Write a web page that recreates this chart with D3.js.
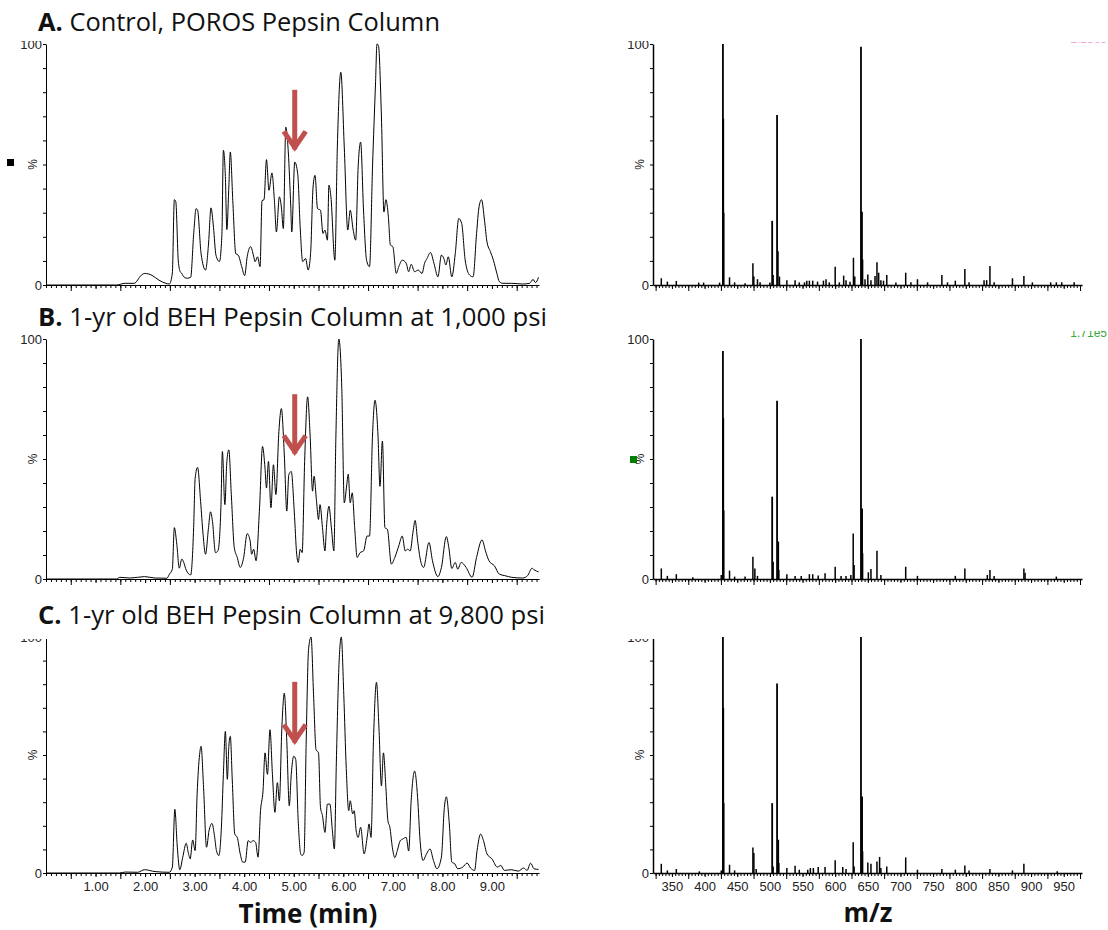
<!doctype html>
<html lang="en">
<head>
<meta charset="utf-8">
<title>Pepsin column comparison</title>
<script src="https://cdn.jsdelivr.net/npm/d3@7/dist/d3.min.js"></script>
<style>
  body { margin: 0; background: #fff; }
  svg { display: block; }
  .tick text { font-family: "Liberation Sans Narrow", "Liberation Sans", Arial, sans-serif; font-size: 13px; fill: #222; }
</style>
</head>
<body>
<svg id="chart"></svg>
<script>
// panel titles (bold letter + text)
const panelLetters = ["A.", "B.", "C."];
const panelTitles = [" Control, POROS Pepsin Column",
                     " 1-yr old BEH Pepsin Column at 1,000 psi",
                     " 1-yr old BEH Pepsin Column at 9,800 psi"];

const timeTicks = [1, 2, 3, 4, 5, 6, 7, 8, 9];
const mzTicks = [350, 400, 450, 500, 550, 600, 650, 700, 750, 800, 850, 900, 950];

// chromatograms: [time (min), relative %]
const traceA = [[0,0],[1.42,0],[1.6,0.7],[1.78,0.7],[1.92,4],[1.99,4.8],[2.14,4],[2.28,2],[2.42,0.7],[2.49,0.4],
  [2.55,5],[2.59,35.4],[2.62,34.5],[2.67,10],[2.71,5.5],[2.74,4.8],[2.78,3.4],[2.85,2.8],[2.92,3.2],[2.98,21],
  [3.03,31.7],[3.06,31],[3.13,13],[3.22,6.2],[3.28,17],[3.33,32],[3.38,24],[3.43,12.4],[3.5,9.7],[3.55,21],
  [3.58,55.9],[3.62,45],[3.65,23],[3.69,40.7],[3.72,55.2],[3.77,35],[3.83,13],[3.88,12.4],[3.95,7.6],[4.01,3.9],
  [4.06,11.7],[4.13,15.9],[4.19,12],[4.22,9.7],[4.27,11.7],[4.32,7.6],[4.36,35],[4.4,35.4],[4.45,52],[4.5,39.3],
  [4.56,46.5],[4.61,35],[4.65,22],[4.71,36.6],[4.75,32.4],[4.79,23.4],[4.84,65.5],[4.89,55.2],[4.94,32.4],[4.96,22],
  [5.02,51],[5.08,46.2],[5.13,24],[5.18,9.7],[5.24,11],[5.29,6.2],[5.34,13],[5.39,40.7],[5.43,45.5],[5.48,31.7],
  [5.54,31],[5.59,21.4],[5.63,22.8],[5.68,18.6],[5.71,41.4],[5.75,36.6],[5.83,10.3],[5.88,57.2],[5.95,88.3],[6.02,57.2],
  [6.09,22.8],[6.14,31],[6.2,22.8],[6.25,18.6],[6.3,49],[6.35,59.3],[6.41,30.3],[6.47,10.3],[6.53,7.6],[6.59,49],
  [6.65,83.4],[6.68,100],[6.71,99.3],[6.77,69.7],[6.82,30.3],[6.86,35.4],[6.91,28.3],[6.95,16.6],[7.0,15.9],[7.07,4.8],
  [7.12,7.6],[7.19,10.3],[7.27,9],[7.32,5.5],[7.37,8.6],[7.44,5.5],[7.51,6.2],[7.59,4.8],[7.64,9],[7.69,11],
  [7.76,13.5],[7.83,9],[7.91,3.4],[7.98,12.4],[8.03,11],[8.07,8.3],[8.12,11.7],[8.19,3.4],[8.26,13],[8.33,27.6],
  [8.39,25.5],[8.46,10.3],[8.55,4.1],[8.62,3.4],[8.69,21.4],[8.74,32.4],[8.79,35.4],[8.85,26.9],[8.9,17.9],[8.97,13.8],
  [9.03,10.3],[9.1,4.8],[9.15,1.4],[9.22,0.7],[9.4,0.7],[9.62,0.4],[9.76,0.7],[9.83,2.3],[9.88,1],[9.94,3.2]];

const traceB = [[0,0],[1.42,0],[1.49,0.7],[1.7,0.4],[1.99,1],[2.2,0.4],[2.44,0.3],[2.49,2],[2.55,4.1],[2.59,21.4],
  [2.64,14.5],[2.69,4.5],[2.74,8.3],[2.78,6.9],[2.83,3.7],[2.92,1.7],[2.98,21.4],[3.01,42],[3.06,46.5],[3.12,32.4],
  [3.17,18.6],[3.22,10.3],[3.28,21.4],[3.32,28],[3.36,24],[3.42,11],[3.47,11.7],[3.53,29.7],[3.56,53.1],[3.61,31],
  [3.65,49],[3.69,53.8],[3.74,35.2],[3.8,13.1],[3.86,9],[3.92,4.8],[3.99,9],[4.06,18.9],[4.12,15.9],[4.15,10.3],
  [4.19,12.4],[4.24,7.6],[4.31,29.7],[4.37,55.2],[4.42,46.2],[4.45,37.9],[4.49,49],[4.54,29.7],[4.59,47.6],[4.64,35.2],
  [4.7,61.4],[4.75,71],[4.81,51.7],[4.86,28.3],[4.9,43.4],[4.95,44.8],[5.01,28.3],[5.06,10.3],[5.09,6.9],[5.13,12.4],
  [5.17,11],[5.22,49],[5.28,75.9],[5.33,60],[5.38,36.6],[5.41,42.8],[5.46,32.4],[5.5,24.8],[5.53,31],[5.58,21.4],
  [5.63,11.7],[5.66,21.4],[5.71,30.3],[5.76,21.4],[5.81,11.7],[5.85,58.6],[5.91,100],[5.97,79.3],[6.02,31.7],[6.07,39.3],
  [6.1,43.7],[6.14,31.7],[6.18,35.9],[6.23,21.4],[6.28,9],[6.34,11],[6.41,11.7],[6.48,17.9],[6.53,17.9],[6.59,60],
  [6.64,74.5],[6.7,60],[6.74,38.6],[6.79,57.5],[6.84,21.4],[6.89,20.7],[6.97,6.2],[7.04,9],[7.12,13.8],[7.19,17.9],
  [7.25,11.7],[7.3,12.4],[7.35,11.7],[7.41,20],[7.45,24.4],[7.5,15.9],[7.56,7.6],[7.62,4.8],[7.73,15.2],[7.8,7.6],
  [7.91,1],[7.98,4.8],[8.08,17.7],[8.13,13.1],[8.19,4.4],[8.26,6.9],[8.31,4.1],[8.38,6.9],[8.48,4.8],[8.6,0.7],
  [8.69,9],[8.8,16.3],[8.87,11.7],[8.94,7.6],[9.05,5.5],[9.15,2],[9.26,1.4],[9.4,0.7],[9.62,0.4],[9.72,1.4],
  [9.81,4.5],[9.86,3.7],[9.94,3]];

const traceC = [[0,0],[1.48,0],[1.6,0.4],[1.85,0.3],[1.99,1.4],[2.2,0.6],[2.49,0.3],[2.55,2.5],[2.6,27],[2.65,11],
  [2.7,1.4],[2.76,6.7],[2.83,12.6],[2.87,8.8],[2.91,6],[2.96,14],[3.01,9.5],[3.05,33.4],[3.1,50.2],[3.13,53.7],
  [3.18,36.2],[3.24,10.9],[3.29,17.9],[3.35,21],[3.4,15.8],[3.44,9.5],[3.49,7.4],[3.54,19.4],[3.58,41.8],[3.62,60],
  [3.66,39.7],[3.69,53.7],[3.72,57.9],[3.76,39],[3.81,16.5],[3.86,15.1],[3.92,8.1],[3.97,4.6],[4.02,4.6],[4.08,13.7],
  [4.13,13],[4.18,13.7],[4.23,13],[4.28,6.7],[4.33,26.4],[4.38,34.8],[4.42,50.9],[4.47,41.8],[4.52,60.7],[4.57,41.8],
  [4.62,25.7],[4.67,38.3],[4.71,30.6],[4.76,61.4],[4.81,76.2],[4.86,55.8],[4.91,28.5],[4.95,41.8],[5.0,49.5],[5.04,48.1],
  [5.09,22.2],[5.14,8.1],[5.17,7.4],[5.21,8.8],[5.25,54.4],[5.3,95],[5.35,100],[5.4,75.5],[5.45,52.3],[5.5,50.9],
  [5.54,27.8],[5.58,24.3],[5.63,17.2],[5.68,29.2],[5.73,29.2],[5.78,17.9],[5.82,10.2],[5.86,47],[5.91,86.7],[5.96,100],
  [6.01,75.5],[6.06,44.3],[6.11,26.4],[6.14,30.6],[6.19,25],[6.22,26.4],[6.26,17.9],[6.3,15.1],[6.35,19.4],[6.42,8.1],
  [6.49,16.5],[6.52,20.8],[6.56,15.1],[6.61,56.8],[6.67,80.8],[6.72,61.4],[6.77,36.9],[6.81,50.9],[6.86,36.2],[6.9,22.2],
  [6.94,19.4],[6.99,10.9],[7.04,6.5],[7.09,9.5],[7.15,13.7],[7.2,14.4],[7.27,15.1],[7.32,9.3],[7.37,30.6],[7.44,43.2],
  [7.5,32],[7.55,13.7],[7.61,5.3],[7.68,8.1],[7.75,10.2],[7.82,5.3],[7.89,1.8],[7.98,6.7],[8.04,27.8],[8.08,32.3],
  [8.14,20.8],[8.19,4.6],[8.25,3.9],[8.31,1.8],[8.41,2.5],[8.5,4.2],[8.57,2.1],[8.65,1.1],[8.7,9.5],[8.77,16.5],
  [8.83,13.7],[8.9,8.1],[9.0,6],[9.11,2.5],[9.18,3.2],[9.25,1.1],[9.39,1.4],[9.53,0.8],[9.64,2.1],[9.71,1.1],
  [9.78,4.2],[9.85,1.8],[9.94,1.5]];

// mass spectra: [m/z, relative %]
const specA = [[333.7,2.8],[343,1.4],[356.7,1.7],[391,1],[398.5,1],[423,1],[428.1,100],[428.6,69],[429.1,30],
  [438.2,3.2],[446,1.1],[462,0.7],[474,9],[475.4,3.5],[481,2.4],[485,1.1],[500,1],[503.5,26.6],[505,4.1],
  [511,70.5],[512.4,14],[514.7,3.5],[526,2],[538.6,2],[545,1.1],[553,1.1],[556.5,1.8],[560.5,1.8],[565.6,1.8],
  [573,1.4],[582,1.8],[586,2.4],[591,1.1],[600,7.6],[606.4,1.1],[613,3.9],[616.6,2],[622.7,1.4],[628,11.3],
  [630,3.5],[639.5,98.9],[641,30.4],[642,10.6],[645.7,2.4],[650,4.4],[654.8,2],[661,3.7],[664,9.4],[666.6,5.1],
  [670,2],[674,1.8],[679,4.1],[693,1],[708,5.1],[716,1.1],[726,2.4],[741.5,1.1],[763.4,4.1],[772,1.1],
  [784,1.8],[798.6,6.6],[805,1.1],[828,2],[832,2],[837,7.9],[843.4,1.1],[871.5,2.8],[889,3.7],[902,1.1],
  [930,1.1],[938.7,1.1],[947,1.1],[966,1.1]];

const specB = [[333.7,4.4],[343,1.3],[356.7,2],[382,0.7],[425.5,1.7],[428.1,95],[428.6,67],[429.1,28.5],
  [438.2,3.5],[446,1],[462,1],[474,9.3],[477,4.4],[481,1.3],[503.5,34.3],[505,7.2],[511,74.3],[513,15.6],
  [513.7,3.8],[526,2],[538.6,1.3],[548,1.3],[560.5,2],[565.6,2],[574,1.5],[584.5,2.4],[600,5.1],[609,1.3],
  [616.6,1.3],[624,1.7],[627.6,19],[629,5.8],[639.5,100],[641.2,29.4],[642,10.7],[650.8,2.8],[654.8,4.2],
  [664,11.8],[670,1.7],[708,5.1],[726,1.3],[784,1.3],[798.6,4.4],[833,1.7],[837,3.8],[843.4,1.3],[889,4.4],
  [890.8,2.6],[938.7,1]];

const specC = [[333.7,3.9],[343,1.1],[356.7,1.7],[392,0.7],[425.5,1.1],[428.1,100],[428.6,70],[429.1,29.6],
  [438.2,3.5],[446,1.1],[474,10.8],[475.5,8.5],[479,1.7],[503.5,29.6],[505,2.8],[511,80.3],[513,14.1],
  [513.7,4.2],[526,2.1],[538.6,3.1],[545,1.4],[558,1.4],[562,2.1],[566.6,2.1],[574,2.5],[584.5,2.5],[600,5.4],
  [611.6,2.5],[616.6,1.7],[627.6,13],[629,2.8],[639.5,100],[641.2,32.4],[642,9.2],[650,4.5],[654.8,3.9],
  [664,4.9],[668,6.8],[670,2.1],[679,2.8],[708,6.6],[726,1.4],[763.4,1.7],[784,1.4],[798.6,3.2],[805,1.1],
  [837,1.7],[871.5,1.1],[889,3.9],[940,0.7]];

const traces = [traceA, traceB, traceC];
const spectra = [specA, specB, specC];

// red arrows marking the peak of interest: time, start %, tip %
const arrowTime = 5.02;
const arrowStart = [81, 77, 81];
const arrowTip = [55, 51, 54];

const width = 1108, height = 930;
const svg = d3.select("#chart").attr("width", width).attr("height", height);

const rows = [
    {top: 44, base: 285, title: 31, clip: 41},
    {top: 339, base: 579, title: 326, clip: 300},
    {top: 637, base: 873, title: 624, clip: 639}
];

const xTime = d3.scaleLinear([0, 9.95], [46, 539]);
const xMz = d3.scaleLinear([321, 978], [653, 1082]);

const defs = svg.append("defs");
const sans = "'Open Sans', 'Noto Sans', sans-serif";
const titleWidths = [402, 509, 507];

rows.forEach((r, i) => {
    const y = d3.scaleLinear([0, 100], [r.base, r.top]);

    // title
    const t = svg.append("text")
        .attr("x", 38).attr("y", r.title)
        .attr("font-family", sans).attr("font-size", 25)
        .attr("textLength", titleWidths[i]).attr("lengthAdjust", "spacingAndGlyphs")
        .attr("fill", "#111");
    t.append("tspan").attr("font-weight", "bold").text(panelLetters[i]);
    t.append("tspan").text(panelTitles[i]);

    // the source image was cropped just above some panels, cutting the "100" label
    defs.append("clipPath").attr("id", "clip" + i)
        .append("rect").attr("x", -80).attr("y", r.clip).attr("width", 200).attr("height", r.base - r.clip + 40);

    [[xTime, 46, 1], [xMz, 653, 1.5]].forEach(([x, x0, sw], side) => {
        // y axis
        const ya = svg.append("g")
            .attr("transform", `translate(${x0},0)`)
            .attr("clip-path", `url(#clip${i})`)
            .call(d3.axisLeft(y).tickValues(d3.range(0, 101, 10)).tickSize(3).tickSizeOuter(0).tickPadding(1)
                .tickFormat(d => (d === 0 || d === 100) ? String(d) : ""));
        ya.select(".domain").attr("stroke-width", sw);
        svg.append("text")
            .attr("transform", `translate(${x0 - 9},${y(50)}) rotate(-90)`)
            .attr("text-anchor", "middle")
            .attr("font-family", "'Liberation Sans', Arial, sans-serif").attr("font-size", 12)
            .attr("fill", "#222")
            .text("%");

        // x axis: minor, half and labelled ticks
        const isTime = side === 0;
        const dom = x.domain();
        const step = isTime ? 0.1 : 5;
        const minor = d3.range(Math.ceil(dom[0] / step) * step, dom[1], step);
        const half = isTime ? d3.range(0.5, dom[1], 1) : d3.range(325, dom[1], 50);
        const labels = isTime ? timeTicks : mzTicks;

        const xa = svg.append("g").attr("transform", `translate(0,${r.base})`)
            .call(d3.axisBottom(x).tickValues(minor).tickSize(3).tickSizeOuter(0).tickFormat(""));
        xa.select(".domain").attr("stroke-width", sw);
        svg.append("g").attr("transform", `translate(0,${r.base})`)
            .call(d3.axisBottom(x).tickValues(half).tickSize(6).tickSizeOuter(0).tickFormat(""))
            .select(".domain").remove();
        svg.append("g").attr("transform", `translate(0,${r.base})`)
            .call(d3.axisBottom(x).tickValues(labels).tickSize(4).tickSizeOuter(0).tickPadding(5)
                .tickFormat(i === 2 ? (isTime ? d3.format(".2f") : d3.format("d")) : ""))
            .select(".domain").remove();
    });

    // chromatogram
    const line = d3.line()
        .x(d => xTime(d[0]))
        .y(d => y(d[1]))
        .curve(d3.curveMonotoneX);
    svg.append("path")
        .datum(traces[i])
        .attr("fill", "none")
        .attr("stroke", "#000")
        .attr("stroke-width", 1)
        .attr("d", line);

    // mass spectrum sticks
    svg.append("g")
        .selectAll("line")
        .data(spectra[i])
        .join("line")
        .attr("x1", d => xMz(d[0])).attr("x2", d => xMz(d[0]))
        .attr("y1", y(0)).attr("y2", d => y(d[1]))
        .attr("stroke", "#000")
        .attr("stroke-width", d => d[1] > 20 ? 1.8 : 1.5);

    // arrow
    const ax = xTime(arrowTime), y1 = y(arrowStart[i]), y2 = y(arrowTip[i]);
    const arrow = svg.append("g")
        .attr("stroke", "#c0504d").attr("stroke-width", 5).attr("fill", "none");
    arrow.append("line").attr("x1", ax).attr("x2", ax).attr("y1", y1).attr("y2", y2 - 3);
    arrow.append("path")
        .attr("stroke-linejoin", "miter")
        .attr("d", `M${ax - 11},${y2 - 21} L${ax},${y2 - 5} L${ax + 11},${y2 - 21}`);
});

// axis titles
svg.append("text")
    .attr("x", 308).attr("y", 923)
    .attr("text-anchor", "middle")
    .attr("font-family", sans).attr("font-weight", "bold").attr("font-size", 26)
    .attr("fill", "#111")
    .text("Time (min)");
svg.append("text")
    .attr("x", 868).attr("y", 922)
    .attr("text-anchor", "middle")
    .attr("font-family", sans).attr("font-weight", "bold").attr("font-size", 26)
    .attr("fill", "#111")
    .text("m/z");

// leftover markers from the source software
svg.append("rect").attr("x", 7).attr("y", 159).attr("width", 7).attr("height", 7).attr("fill", "#000");
svg.append("rect").attr("x", 630).attr("y", 456).attr("width", 7).attr("height", 7).attr("fill", "#008000");

defs.append("clipPath").attr("id", "clipGreen")
    .append("rect").attr("x", 1060).attr("y", 331).attr("width", 60).attr("height", 20);
svg.append("text")
    .attr("x", 1107).attr("y", 337)
    .attr("text-anchor", "end")
    .attr("clip-path", "url(#clipGreen)")
    .attr("font-family", "'Liberation Sans', Arial, sans-serif").attr("font-size", 12)
    .attr("fill", "#3aa83a")
    .text("1.71e5");
defs.append("clipPath").attr("id", "clipPink")
    .append("rect").attr("x", 1060).attr("y", 42).attr("width", 60).attr("height", 2);
svg.append("text")
    .attr("x", 1107).attr("y", 43)
    .attr("text-anchor", "end")
    .attr("clip-path", "url(#clipPink)")
    .attr("font-family", "'Liberation Sans', Arial, sans-serif").attr("font-size", 12)
    .attr("fill", "#e9a3d3")
    .text("1.23e5");
</script>
</body>
</html>
